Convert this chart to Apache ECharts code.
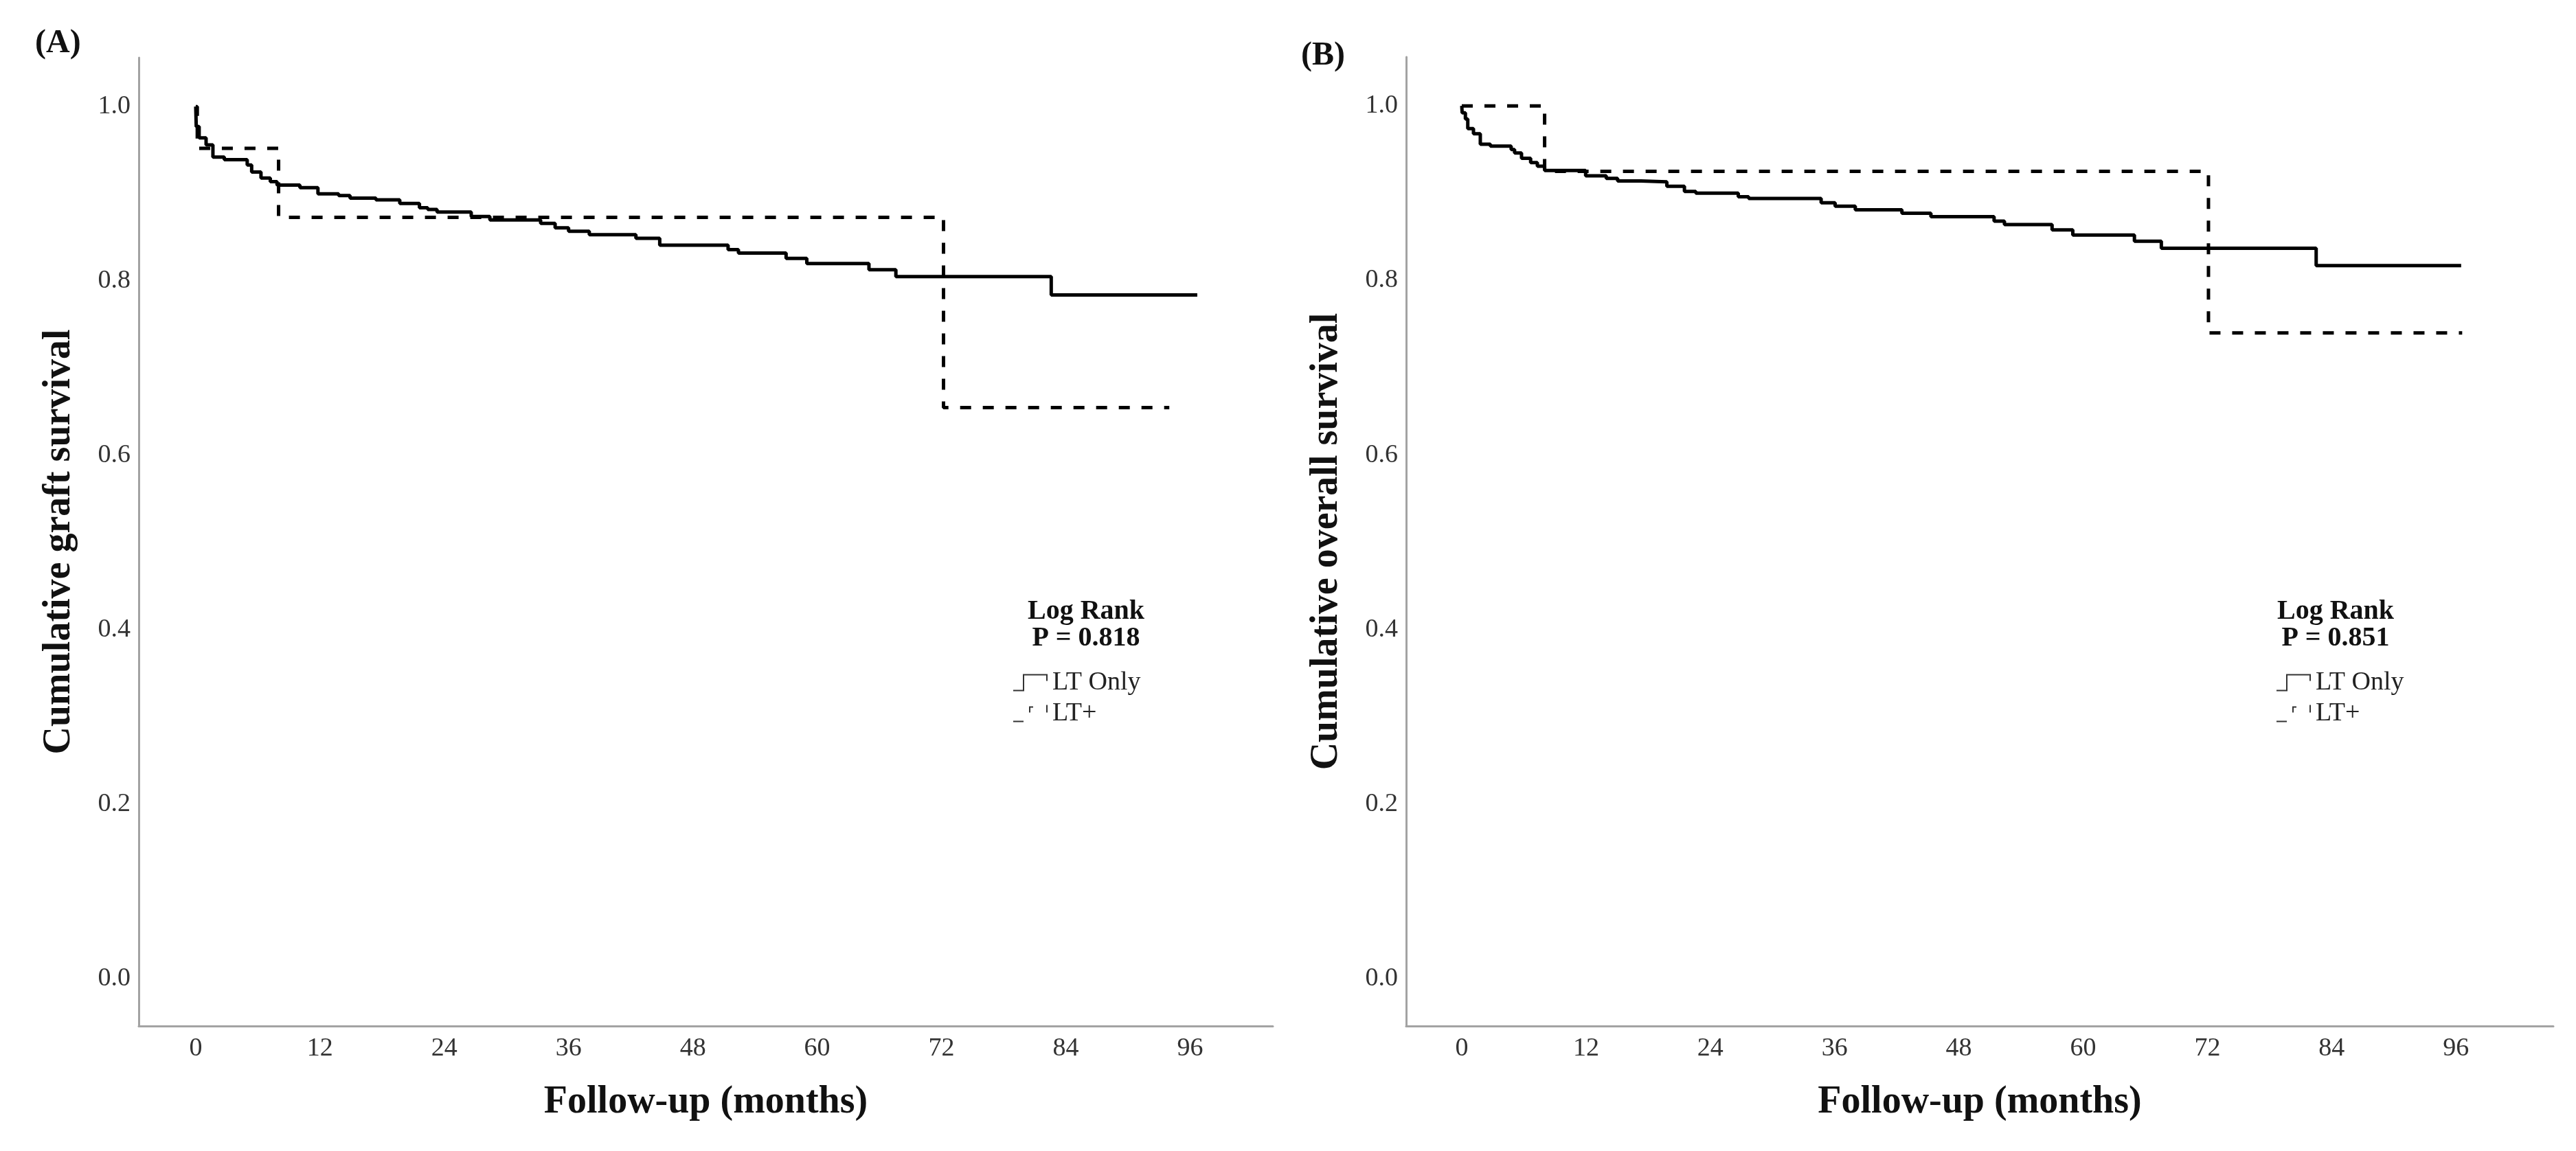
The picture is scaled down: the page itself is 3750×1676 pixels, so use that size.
<!DOCTYPE html>
<html>
<head>
<meta charset="utf-8">
<script src="https://cdn.jsdelivr.net/npm/echarts@6/dist/echarts.min.js"></script>
<style>
html,body{margin:0;padding:0;background:#fff;}
#chart{width:3750px;height:1676px;}
</style>
</head>
<body>
<div id="chart"></div>
<script>
// ---- data (months, cumulative survival) ----
var xTicks = [0, 12, 24, 36, 48, 60, 72, 84, 96];
var yTicks = [0, 0.2, 0.4, 0.6, 0.8, 1.0];
var seriesNames = ['LT Only', 'LT+'];

// Panel A: graft survival
var graftLTOnly = [[0,1.0],[0.05,0.977],[0.33,0.964],[1.0,0.956],[1.66,0.942],[2.76,0.939],[4.97,0.933],[5.4,0.925],[6.3,0.918],[7.2,0.914],[7.85,0.910],[10.06,0.907],[11.8,0.900],[13.8,0.898],[14.9,0.895],[17.4,0.893],[19.7,0.889],[21.6,0.884],[22.4,0.882],[23.3,0.879],[26.6,0.874],[28.4,0.870],[33.3,0.866],[34.7,0.861],[36.0,0.857],[38.0,0.853],[42.5,0.849],[44.8,0.841],[51.4,0.836],[52.4,0.832],[57.0,0.826],[59.0,0.820],[65.0,0.813],[67.6,0.805],[82.6,0.784],[96.7,0.784]];
var graftLTPlus = [[0,1.0],[0.15,0.952],[8.0,0.873],[72.2,0.655],[94.0,0.655]];

// Panel B: overall survival
var overallLTOnly = [[0,1.0],[0.04,0.992],[0.35,0.985],[0.58,0.974],[1.13,0.968],[1.79,0.956],[2.76,0.954],[4.77,0.950],[5.1,0.946],[5.77,0.940],[6.65,0.935],[7.3,0.931],[8.0,0.926],[11.96,0.920],[13.95,0.917],[15.05,0.914],[17.3,0.913],[19.8,0.908],[21.5,0.902],[22.6,0.900],[26.7,0.896],[27.7,0.894],[34.7,0.889],[36.05,0.885],[38.0,0.881],[42.5,0.877],[45.3,0.873],[51.4,0.868],[52.4,0.864],[57.0,0.858],[59.0,0.852],[64.95,0.845],[67.55,0.837],[82.5,0.817],[96.5,0.817]];
var overallLTPlus = [[0,1.0],[8.0,0.925],[72.1,0.740],[96.6,0.740]];

var pValueA = 'P = 0.818';
var pValueB = 'P = 0.851';

// ---- chart ----
var FONT = 'Liberation Serif, Times New Roman, serif';
var iconSolid = 'path://M0 23 L14 23 L14 0 L50 0 L50 10 L48 10 L48 2 L16 2 L16 25 L0 25 Z';
var iconDash = 'path://M0 23 L15 23 L15 25 L0 25 Z M23 2 L29 2 L29 4 L25 4 L25 11 L23 11 Z M48 0 L50 0 L50 11 L48 11 Z';

function xAxisCfg(gridIndex, min, max) {
  return {
    type: 'value', gridIndex: gridIndex, min: min, max: max,
    name: 'Follow-up (months)', nameLocation: 'middle', nameGap: 84,
    nameTextStyle: {fontFamily: FONT, fontSize: 56, fontWeight: 'bold', color: '#111'},
    axisLine: {show: true, onZero: false, lineStyle: {color: '#a3a3a3', width: 3}},
    axisTick: {show: false},
    splitLine: {show: false},
    axisLabel: {customValues: xTicks, margin: 14, fontFamily: FONT, fontSize: 38, color: '#333'}
  };
}
function yAxisCfg(gridIndex, name) {
  return {
    type: 'value', gridIndex: gridIndex, min: -0.054, max: 1.056,
    name: name, nameLocation: 'middle', nameGap: 87,
    nameTextStyle: {fontFamily: FONT, fontSize: 56, fontWeight: 'bold', color: '#111'},
    axisLine: {show: true, onZero: false, lineStyle: {color: '#a3a3a3', width: 3}},
    axisTick: {show: false},
    splitLine: {show: false},
    axisLabel: {customValues: yTicks, margin: 12, fontFamily: FONT, fontSize: 38, color: '#333',
      formatter: function (v) { return v.toFixed(1); }}
  };
}
function lineSeries(name, idx, data, dashed) {
  return {
    name: name, type: 'line', xAxisIndex: idx, yAxisIndex: idx, data: data,
    step: 'end', symbol: 'none', showSymbol: false, silent: true,
    itemStyle: {color: '#000'},
    lineStyle: {color: '#000', width: 5, type: dashed ? [16, 17] : 'solid', cap: 'butt'}
  };
}
function legendCfg(left) {
  return {
    orient: 'vertical', left: left, top: 970, itemWidth: 50, itemHeight: 25, itemGap: 7,
    itemStyle: {color: '#333', borderWidth: 0},
    textStyle: {fontFamily: FONT, fontSize: 38, color: '#222', padding: [0, 0, 0, 2]},
    selectedMode: false,
    data: [{name: seriesNames[0], icon: iconSolid}, {name: seriesNames[1], icon: iconDash}]
  };
}
function txt(x, y, text, size, weight, align) {
  return {type: 'text', x: x, y: y, style: {text: text, fontFamily: FONT, fontSize: size,
    fontWeight: weight, fill: '#111', align: align || 'center', verticalAlign: 'middle'}};
}

var chart = echarts.init(document.getElementById('chart'), null, {renderer: 'canvas', devicePixelRatio: 1});
chart.setOption({
  animation: false,
  backgroundColor: '#fff',
  grid: [
    {left: 202, top: 84, width: 1651, height: 1410},
    {left: 2047, top: 83, width: 1670, height: 1411}
  ],
  xAxis: [xAxisCfg(0, -5.5, 104.0), xAxisCfg(1, -5.37, 105.4)],
  yAxis: [yAxisCfg(0, 'Cumulative graft survival'), yAxisCfg(1, 'Cumulative overall survival')],
  legend: [legendCfg(1470), legendCfg(3309)],
  series: [
    lineSeries(seriesNames[0], 0, graftLTOnly, false),
    lineSeries(seriesNames[1], 0, graftLTPlus, true),
    lineSeries(seriesNames[0], 1, overallLTOnly, false),
    lineSeries(seriesNames[1], 1, overallLTPlus, true)
  ],
  graphic: [
    txt(51, 64, '(A)', 48, 'bold', 'left'),
    txt(1894, 82, '(B)', 48, 'bold', 'left'),
    txt(1581, 891, 'Log Rank', 40, 'bold'),
    txt(1581, 930, pValueA, 40, 'bold'),
    txt(3400, 891, 'Log Rank', 40, 'bold'),
    txt(3400, 930, pValueB, 40, 'bold')
  ]
});
</script>
</body>
</html>
